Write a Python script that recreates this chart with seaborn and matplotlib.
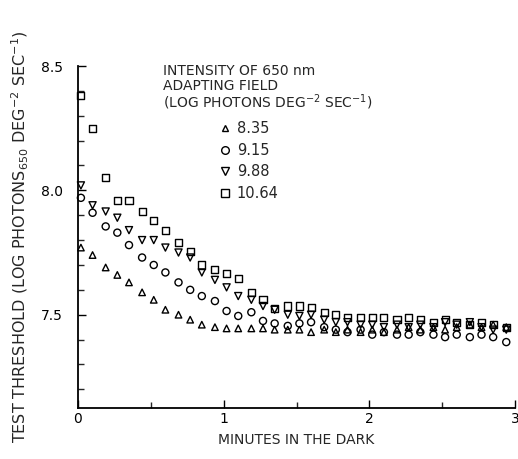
import numpy as np
import pandas as pd
import matplotlib
matplotlib.use("Agg")
import matplotlib.pyplot as plt
import seaborn as sns
from matplotlib.lines import Line2D
from matplotlib.ticker import MultipleLocator

# time after the adapting field was turned off (minutes)
minutes = [0.02, 0.10, 0.19, 0.27, 0.35, 0.44, 0.52, 0.60, 0.69, 0.77,
           0.85, 0.94, 1.02, 1.10, 1.19, 1.27, 1.35, 1.44, 1.52, 1.60,
           1.69, 1.77, 1.85, 1.94, 2.02, 2.10, 2.19, 2.27, 2.35, 2.44,
           2.52, 2.60, 2.69, 2.77, 2.85, 2.94]

# log test threshold for each adapting intensity
thr_835 = [7.77, 7.74, 7.69, 7.66, 7.63, 7.59, 7.56, 7.52, 7.50, 7.48,
           7.46, 7.45, 7.445, 7.445, 7.445, 7.445, 7.44, 7.44, 7.44, 7.43,
           7.44, 7.43, 7.44, 7.43, 7.44, 7.43, 7.44, 7.45, 7.44, 7.45,
           7.44, 7.45, 7.46, 7.45, 7.46, 7.45]
thr_915 = [7.97, 7.91, 7.855, 7.83, 7.78, 7.73, 7.70, 7.67, 7.63, 7.60,
           7.575, 7.555, 7.515, 7.495, 7.51, 7.475, 7.465, 7.455, 7.465, 7.47,
           7.45, 7.44, 7.43, 7.44, 7.42, 7.43, 7.42, 7.42, 7.43, 7.42,
           7.41, 7.42, 7.41, 7.42, 7.41, 7.39]
thr_988 = [8.02, 7.94, 7.915, 7.89, 7.84, 7.80, 7.80, 7.77, 7.75, 7.73,
           7.67, 7.64, 7.61, 7.575, 7.56, 7.535, 7.52, 7.50, 7.495, 7.50,
           7.48, 7.47, 7.47, 7.46, 7.46, 7.45, 7.46, 7.45, 7.46, 7.45,
           7.47, 7.46, 7.47, 7.45, 7.44, 7.44]
thr_1064 = [8.38, 8.25, 8.05, 7.96, 7.96, 7.915, 7.88, 7.84, 7.79, 7.755,
            7.70, 7.68, 7.665, 7.645, 7.59, 7.56, 7.525, 7.535, 7.535, 7.53,
            7.51, 7.50, 7.49, 7.49, 7.49, 7.49, 7.48, 7.49, 7.48, 7.47,
            7.48, 7.47, 7.46, 7.47, 7.46, 7.45]

series_labels = ["8.35", "9.15", "9.88", "10.64"]
series_values = [thr_835, thr_915, thr_988, thr_1064]
series_markers = ["^", "o", "v", "s"]
marker_sizes = [22, 26, 26, 26]

x_ticks = [0, 1, 2, 3]
x_tick_labels = ["0", "1", "2", "3"]
y_ticks = [7.5, 8.0, 8.5]
y_tick_labels = ["7.5", "8.0", "8.5"]

rows = []
for lab, vals in zip(series_labels, series_values):
    for t, v in zip(minutes, vals):
        rows.append({"minutes": t, "threshold": v, "intensity": lab})
df = pd.DataFrame(rows)

sns.set_style("ticks")
plt.rcParams["font.family"] = ["DejaVu Sans"]

fig = plt.figure(figsize=(5.18, 4.59), dpi=100)
ax = fig.add_axes([78 / 518, 1 - 408 / 459, (515 - 78) / 518, (408 - 66) / 459])

for lab, m, s in zip(series_labels, series_markers, marker_sizes):
    sub = df[df["intensity"] == lab]
    sns.scatterplot(data=sub, x="minutes", y="threshold", marker=m, s=s,
                    facecolor="none", edgecolor="black", linewidth=1.0,
                    ax=ax, legend=False, clip_on=False)

ax.set_xlim(0, 3)
ax.set_ylim(7.125, 8.5)
ax.set_xticks(x_ticks)
ax.set_xticklabels(x_tick_labels)
ax.set_yticks(y_ticks)
ax.set_yticklabels(y_tick_labels)
ax.xaxis.set_minor_locator(MultipleLocator(0.5))
ax.yaxis.set_minor_locator(MultipleLocator(0.1))
ax.tick_params(axis="both", which="major", direction="in", length=6, width=1,
               labelsize=10, colors="black")
ax.tick_params(axis="both", which="minor", direction="in", length=4, width=1)
ax.tick_params(axis="x", pad=3)
ax.tick_params(axis="y", pad=11)
sns.despine(ax=ax)
for sp in ["left", "bottom"]:
    ax.spines[sp].set_linewidth(1.3)
    ax.spines[sp].set_color("black")

ax.set_xlabel("MINUTES IN THE DARK", fontsize=10, labelpad=5)
ax.set_ylabel(r"TEST THRESHOLD (LOG PHOTONS$_{650}$ DEG$^{-2}$ SEC$^{-1}$)",
              fontsize=11.5, labelpad=7)

# legend header
hdr_x = 163 / 518
hdr_fs = 10
fig.text(hdr_x, 1 - 71 / 459, "INTENSITY OF 650 nm", fontsize=hdr_fs, va="center")
fig.text(hdr_x, 1 - 86 / 459, "ADAPTING FIELD", fontsize=hdr_fs, va="center")
fig.text(hdr_x, 1 - 102.5 / 459, r"(LOG PHOTONS DEG$^{-2}$ SEC$^{-1}$)",
         fontsize=hdr_fs, va="center")

handles = [Line2D([], [], linestyle="none", marker=m, markersize=5 if m == "^" else 5.5,
                  markerfacecolor="none", markeredgecolor="black", markeredgewidth=1.0)
           for m in series_markers]
fig.legend(handles, series_labels, loc="upper left",
           bbox_to_anchor=(212 / 518, 1 - 114 / 459), frameon=False,
           fontsize=10.5, handlelength=0.8, handletextpad=0.4,
           labelspacing=0.45, borderpad=0)

fig.savefig("out.png", dpi=100)
